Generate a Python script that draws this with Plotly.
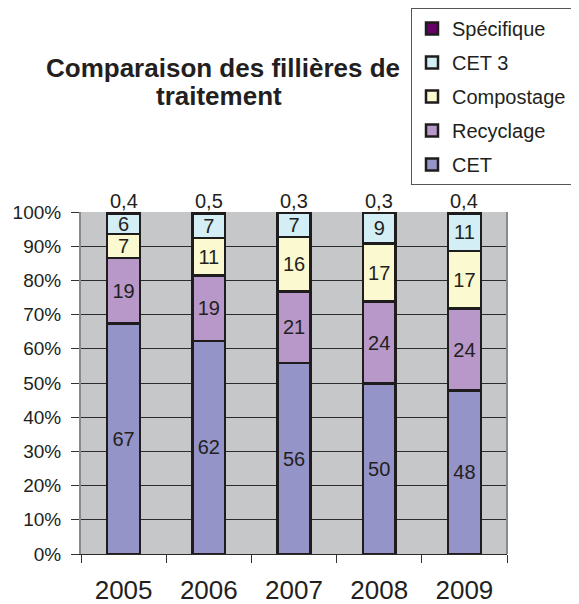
import plotly.graph_objects as go

years = ["2005", "2006", "2007", "2008", "2009"]
cet = [67, 62, 56, 50, 48]
recyclage = [19, 19, 21, 24, 24]
compostage = [7, 11, 16, 17, 17]
cet3 = [6, 7, 7, 9, 11]
specifique = [0.4, 0.5, 0.3, 0.3, 0.4]

series = [
    ("CET", cet, "#9494C9"),
    ("Recyclage", recyclage, "#B898C9"),
    ("Compostage", compostage, "#FAF9D0"),
    ("CET 3", cet3, "#D3EEF5"),
    ("Spécifique", specifique, "#660066"),
]

def fmt(v):
    return str(v).replace(".", ",")

FONT = "Liberation Sans, Arial, sans-serif"
TXT = "#231f20"

# plot area in figure pixels (the page adds an 8px body margin)
W, H = 579, 604
L, R, T, B = 73, 499, 204, 546
PW = W - L          # paper width (right margin is 0, domain limits the plot)
PH = B - T

def px(x):
    return (x - L) / PW

def py(y):
    return (B - y) / PH

fig = go.Figure()
n = len(series)
for i, (name, vals, col) in enumerate(series):
    show_text = name != "Spécifique"
    fig.add_trace(go.Bar(
        x=years, y=vals, name=name,
        marker=dict(color=col, line=dict(color="#1f1c1d", width=2.5)),
        text=[fmt(v) for v in vals] if show_text else None,
        textposition="inside" if show_text else "none",
        insidetextanchor="middle",
        textfont=dict(size=20, color=TXT, family=FONT),
        textangle=0,
        legendgroup=name,
        legendrank=n - i,
    ))

for idx, v in enumerate(specifique):
    fig.add_annotation(x=idx, y=100, yref="y", xref="x", text=fmt(v),
                       showarrow=False, yanchor="bottom", yshift=-2,
                       font=dict(size=20, color=TXT, family=FONT))

fig.update_layout(
    width=W, height=H,
    barmode="stack", barnorm="percent", bargap=0.614,
    paper_bgcolor="white", plot_bgcolor="#C6C7C9",
    margin=dict(l=L, r=0, t=T, b=H - B),
    uniformtext=dict(minsize=20, mode="show"),
    font=dict(family=FONT, color=TXT),
    showlegend=True,
    legend=dict(
        x=px(403), xanchor="left", y=py(0), yanchor="top",
        traceorder="grouped", tracegroupgap=5,
        font=dict(size=20, color=TXT, family=FONT),
        bordercolor="#555555", borderwidth=1, bgcolor="white",
        itemwidth=30,
    ),
)
fig.add_annotation(
    xref="paper", yref="paper", x=px(214.5), y=py(60),
    text="<b>Comparaison des fillières de</b>",
    showarrow=False, xanchor="center", yanchor="middle",
    font=dict(size=26, color=TXT, family=FONT),
)
fig.add_annotation(
    xref="paper", yref="paper", x=px(210.5), y=py(87.5),
    text="<b>traitement</b>",
    showarrow=False, xanchor="center", yanchor="middle",
    font=dict(size=26, color=TXT, family=FONT),
)
fig.update_yaxes(
    range=[0, 100], dtick=10, ticksuffix="%",
    showgrid=True, gridcolor="#2b2b2b", gridwidth=1,
    ticks="outside", ticklen=8, tickcolor="#333",
    showline=True, linecolor="#8a8a8a", linewidth=2,
    tickfont=dict(size=19, color=TXT, family=FONT),
    ticklabelstandoff=6, automargin=False,
    zeroline=False,
)
fig.update_xaxes(
    type="category", range=[-0.5, len(years) - 0.5],
    domain=[0, (R - L) / PW],
    tickson="boundaries", ticks="outside", ticklen=8, tickcolor="#333",
    showline=True, linecolor="#2b2b2b", linewidth=1,
    tickfont=dict(size=26, color=TXT, family=FONT),
    ticklabelstandoff=13, automargin=False, tickangle=0,
)
fig.add_shape(type="line", xref="x domain", yref="y domain", x0=1, x1=1, y0=0, y1=1,
              line=dict(color="#8a8a8a", width=2))

fig.write_html("out.html")
